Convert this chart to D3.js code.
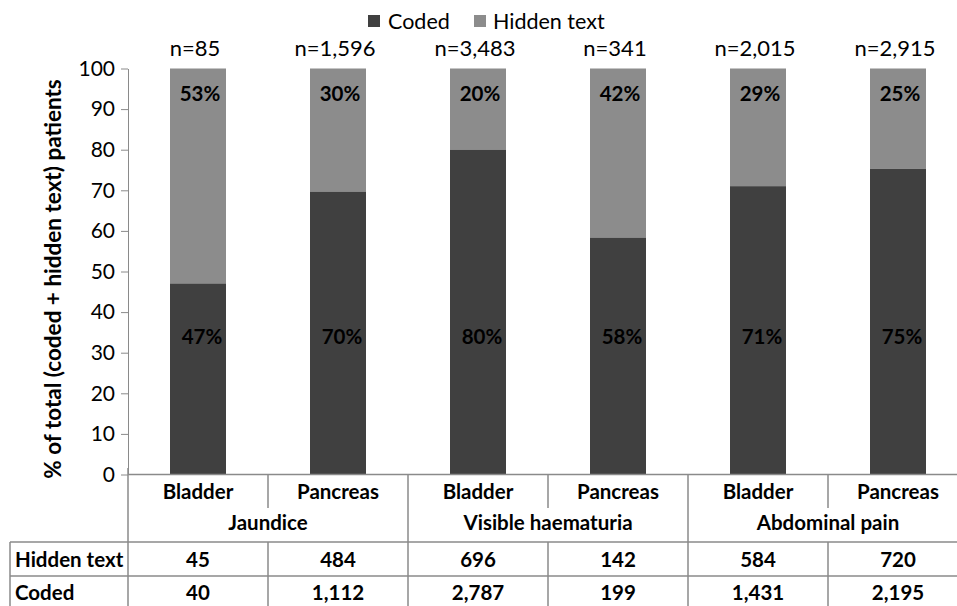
<!DOCTYPE html>
<html><head><meta charset="utf-8">
<script src="https://cdn.jsdelivr.net/npm/d3@7"></script>
<style>body{margin:0;background:#fff;} svg{display:block;font-family:Lato,"Open Sans",sans-serif;}</style>
</head><body>
<svg id="c" width="957" height="606"></svg>
<script>
const groups = ["Jaundice","Visible haematuria","Abdominal pain"];
const sites = ["Bladder","Pancreas","Bladder","Pancreas","Bladder","Pancreas"];
const hiddenCounts = [45,484,696,142,584,720];
const codedCounts = [40,1112,2787,199,1431,2195];
const totals = ["n=85","n=1,596","n=3,483","n=341","n=2,015","n=2,915"];
const hiddenLabels = ["45","484","696","142","584","720"];
const codedLabels = ["40","1,112","2,787","199","1,431","2,195"];
const yTicks = [0,10,20,30,40,50,60,70,80,90,100];
const series = ["Coded","Hidden text"];
const colors = ["#404040","#8c8c8c"];

const svg = d3.select("#c");
const left = 128, sub = 140;
const x = d3.scaleBand().domain(d3.range(6)).range([left, left + 6*sub]).paddingInner(0).paddingOuter(0);
const y = d3.scaleLinear().domain([0,100]).range([474.5, 68.5]);
const lineCol = "#8a8a8a";
const barW = 56;
const FS = 20.5;

const pct = codedCounts.map((c,i)=> 100*c/(c+hiddenCounts[i]));

// bars
const g = svg.append("g");
pct.forEach((p,i)=>{
  const cx = x(i) + x.bandwidth()/2;
  g.append("rect").attr("x",cx-barW/2).attr("width",barW).attr("y",y(100)).attr("height",y(p)-y(100)).attr("fill",colors[1]);
  g.append("rect").attr("x",cx-barW/2).attr("width",barW).attr("y",y(p)).attr("height",y(0)-y(p)).attr("fill",colors[0]);
  g.append("text").attr("x",cx+4).attr("y",y(34)).attr("text-anchor","middle").attr("dominant-baseline","central")
    .attr("font-weight","bold").attr("font-size",FS).attr("fill","#000").text(Math.round(p)+"%");
  g.append("text").attr("x",cx+2).attr("y",y(94)).attr("text-anchor","middle").attr("dominant-baseline","central")
    .attr("font-weight","bold").attr("font-size",FS).attr("fill","#000").text(Math.round(100-p)+"%");
  g.append("text").attr("x",cx-3).attr("y",56).attr("text-anchor","middle")
    .attr("font-size",22).attr("fill","#000").text(totals[i]);
});

// y axis
const ax = svg.append("g").attr("transform",`translate(${left},0)`).call(d3.axisLeft(y).tickValues(yTicks).tickSize(7).tickPadding(6).tickSizeOuter(0));
ax.select(".domain").attr("stroke",lineCol);
ax.selectAll(".tick line").attr("stroke",lineCol);
ax.selectAll("text").attr("font-size",21).attr("fill","#000").attr("font-family","Lato,'Open Sans',sans-serif");

svg.append("text").attr("transform","translate(52,279) rotate(-90)").attr("text-anchor","middle").attr("dominant-baseline","central")
  .attr("font-weight","bold").attr("font-size",22.5).text("% of total (coded + hidden text) patients");

// legend
const lg = svg.append("g");
[[368,388],[474,493]].forEach((p,i)=>{
  lg.append("rect").attr("x",p[0]).attr("y",15).attr("width",12).attr("height",12).attr("fill",colors[i]);
  lg.append("text").attr("x",p[1]).attr("y",21).attr("dominant-baseline","central").attr("font-size",21.5).text(series[i]);
});

// table lines
const L = (x1,y1,x2,y2)=> svg.append("line").attr("x1",x1).attr("y1",y1).attr("x2",x2).attr("y2",y2).attr("stroke",lineCol).attr("stroke-width",1.5);
L(left,474.5,957,474.5);
L(left,468,left,606);
L(10,542,957,542);
L(10,576,957,576);
L(10,542,10,606);
for (let i=1;i<6;i++){
  const xx = x(i);
  if (i%2===0) L(xx,474.5,xx,606);
  else { L(xx,474.5,xx,508); L(xx,542,xx,606); }
}
// labels
sites.forEach((s,i)=>{
  const cx = x(i)+x.bandwidth()/2;
  svg.append("text").attr("x",cx).attr("y",491).attr("text-anchor","middle").attr("dominant-baseline","central").attr("font-weight","bold").attr("font-size",FS).text(s);
  svg.append("text").attr("x",cx).attr("y",559).attr("text-anchor","middle").attr("dominant-baseline","central").attr("font-weight","bold").attr("font-size",FS).text(hiddenLabels[i]);
  svg.append("text").attr("x",cx).attr("y",592).attr("text-anchor","middle").attr("dominant-baseline","central").attr("font-weight","bold").attr("font-size",FS).text(codedLabels[i]);
});
groups.forEach((gname,j)=>{
  const cx = x(2*j+1);
  svg.append("text").attr("x",cx).attr("y",522).attr("text-anchor","middle").attr("dominant-baseline","central").attr("font-weight","bold").attr("font-size",FS).text(gname);
});
svg.append("text").attr("x",15).attr("y",559).attr("dominant-baseline","central").attr("font-weight","bold").attr("font-size",FS).text("Hidden text");
svg.append("text").attr("x",15).attr("y",592).attr("dominant-baseline","central").attr("font-weight","bold").attr("font-size",FS).text("Coded");
</script>
</body></html>
